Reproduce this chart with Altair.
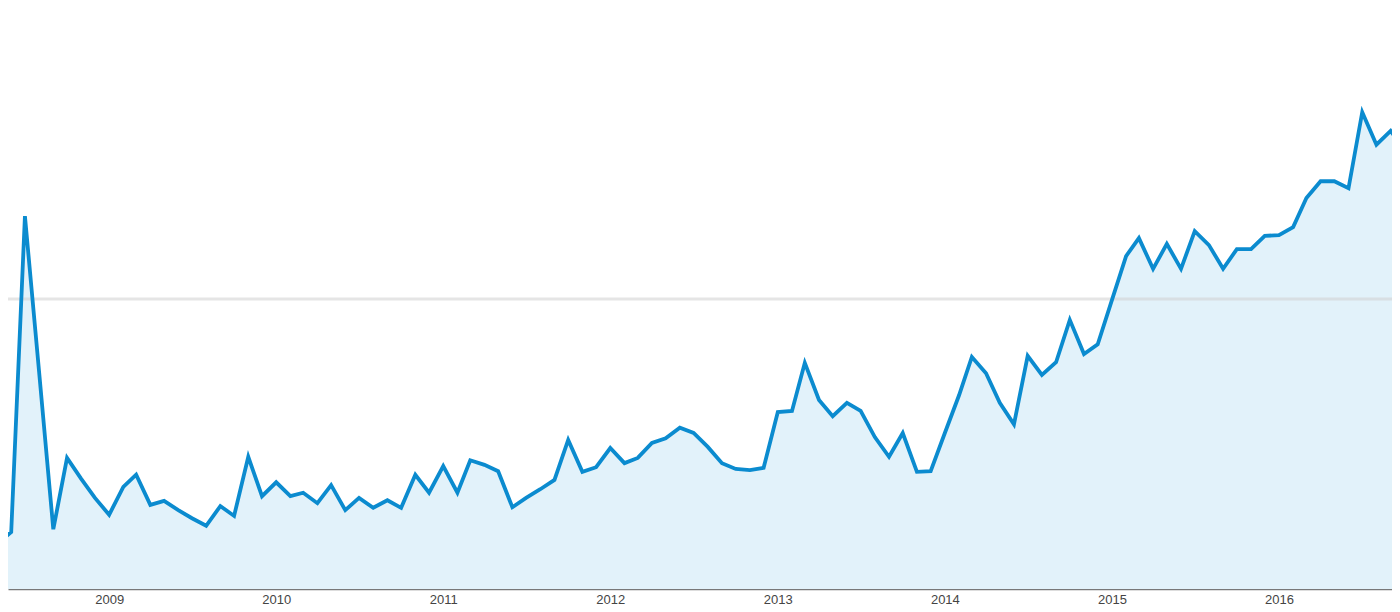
import altair as alt
import pandas as pd

# Monthly values (relative interest), May 2008 .. Oct 2016
values = [
    7.8, 9.8, 64.3, 37.4, 10.3, 22.6, 19.0, 15.7,          # 2008 May-Dec
    12.8, 17.6, 19.7, 14.5, 15.2, 13.6, 12.2, 10.9, 14.3, 12.6, 22.8, 16.0,  # 2009
    18.4, 16.0, 16.6, 14.8, 17.9, 13.6, 15.7, 14.0, 15.3, 14.0, 19.7, 16.6,  # 2010
    21.2, 16.6, 22.2, 21.4, 20.3, 14.1, 15.7, 17.2, 18.8, 25.7, 20.2, 21.0,  # 2011
    24.3, 21.7, 22.6, 25.2, 26.0, 27.8, 26.9, 24.5, 21.7, 20.7, 20.5, 20.9,  # 2012
    30.5, 30.7, 39.0, 32.6, 29.8, 32.1, 30.7, 26.2, 22.8, 26.9, 20.2, 20.3,  # 2013
    26.9, 33.4, 40.0, 37.2, 32.1, 28.4, 40.2, 36.9, 39.1, 46.4, 40.5, 42.2,  # 2014
    49.8, 57.4, 60.5, 55.2, 59.5, 55.2, 61.7, 59.3, 55.2, 58.6, 58.6, 60.9,  # 2015
    61.0, 62.4, 67.4, 70.3, 70.3, 69.1, 82.2, 76.6, 79.0, 75.7,              # 2016 Jan-Oct
]
months = pd.date_range("2008-05-01", periods=len(values), freq="MS").strftime("%Y-%m-%d").tolist()
years = [2009, 2010, 2011, 2012, 2013, 2014, 2015, 2016]
gridline = [50]

df = pd.DataFrame({"date": months, "value": values})
grid_df = pd.DataFrame({"g": gridline})

x_scale = alt.Scale(
    type="utc",
    domain=[alt.DateTime(year=2008, month=5, date=25, utc=True),
            alt.DateTime(year=2016, month=9, date=4, utc=True)],
)
y_scale = alt.Scale(domain=[0, 100], nice=False, zero=True)

x_axis = alt.Axis(
    values=[alt.DateTime(year=y, month=1, date=1, utc=True) for y in years],
    format="%Y", title=None, ticks=False, grid=False,
    domainColor="#787878", domainWidth=1.5,
    labelColor="#444444", labelFont="Liberation Sans", labelFontSize=13,
    labelPadding=4,
)

base = alt.Chart(df)

area = base.mark_area(color="#e2f2fa", clip=True).encode(
    x=alt.X("date:T", scale=x_scale, axis=x_axis),
    y=alt.Y("value:Q", scale=y_scale, axis=None),
)

rule = alt.Chart(grid_df).mark_rule(color="#d0d0d0", opacity=0.55, strokeWidth=3).encode(
    y=alt.Y("g:Q", scale=y_scale, axis=None),
)

line = base.mark_line(color="#0b8bcf", strokeWidth=3.8, clip=True, strokeJoin="miter").encode(
    x=alt.X("date:T", scale=x_scale, axis=x_axis),
    y=alt.Y("value:Q", scale=y_scale, axis=None),
)

chart = alt.layer(area, rule, line).properties(
    width=1384, height=580,
    autosize=alt.AutoSizeParams(type="none"),
    padding={"top": 1, "left": 0, "right": 0, "bottom": 22},
).configure_view(stroke=None)

chart.save("out.html", embed_options={"renderer": "svg", "actions": False})
